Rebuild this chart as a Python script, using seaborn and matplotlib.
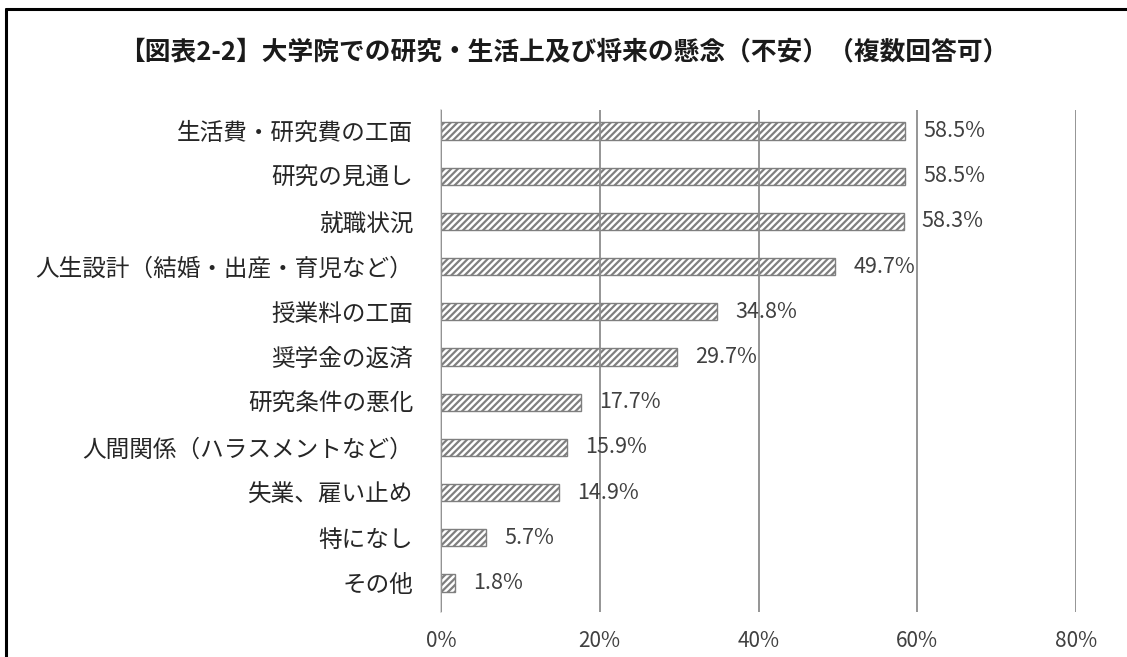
import matplotlib
matplotlib.use("Agg")
import matplotlib.pyplot as plt
import seaborn as sns
import pandas as pd
from matplotlib.lines import Line2D

sns.set_theme(style="white")
plt.rcParams['font.family'] = ['Noto Sans CJK JP', 'DejaVu Sans']
plt.rcParams['hatch.linewidth'] = 1.6
plt.rcParams['hatch.color'] = '#1a1a1a'

# --- data ---
categories = [
    '生活費・研究費の工面',
    '研究の見通し',
    '就職状況',
    '人生設計（結婚・出産・育児など）',
    '授業料の工面',
    '奨学金の返済',
    '研究条件の悪化',
    '人間関係（ハラスメントなど）',
    '失業、雇い止め',
    '特になし',
    'その他',
]
shares = [58.5, 58.5, 58.3, 49.7, 34.8, 29.7, 17.7, 15.9, 14.9, 5.7, 1.8]
ticks = [0, 20, 40, 60, 80]
tick_labels = ['0%', '20%', '40%', '60%', '80%']

df = pd.DataFrame({'item': categories, 'share': [v / 100 for v in shares]})

fig = plt.figure(figsize=(11.27, 6.57), dpi=100)
ax = fig.add_axes([441 / 1127, 1 - 612 / 657, (1076 - 441) / 1127, (612 - 110) / 657])

sns.barplot(data=df, x='share', y='item', orient='h', width=0.38,
            color='white', edgecolor='#7f7f7f', linewidth=1.0, ax=ax)
for bar in ax.patches:
    bar.set_hatch('/////')

# percentage labels to the right of each bar
for bar, v in zip(ax.patches, shares):
    ax.annotate(f'{v:.1f}%', (bar.get_width(), bar.get_y() + bar.get_height() / 2),
                xytext=(13, 0), textcoords='offset points', va='center', ha='left',
                fontsize=15.5, color='#404040')

ax.set_xlim(0, 0.8)
ax.set_ylim(10.64, -0.465)
ax.set_xticks([t / 100 for t in ticks])
ax.set_xticklabels(tick_labels, fontsize=15, color='#404040')
ax.tick_params(axis='x', length=0, pad=13)
ax.tick_params(axis='y', length=0, pad=20, labelsize=17, labelcolor='#262626')
ax.set_xlabel('')
ax.set_ylabel('')

# vertical gridlines, drawn above the bars like Excel
ax.xaxis.grid(True, color='#8c8c8c', linewidth=1.3)
ax.set_axisbelow(False)
for s in ['top', 'right', 'bottom']:
    ax.spines[s].set_visible(False)
ax.spines['left'].set_color('#d0d0d0')
ax.spines['left'].set_linewidth(1.2)
ax.set_facecolor('none')

fig.suptitle('【図表2-2】大学院での研究・生活上及び将来の懸念（不安）（複数回答可）',
             x=0.5, y=1 - 52 / 657, va='center', fontsize=18.5, fontweight='bold',
             color='#1a1a1a')

# frame lines on top and left like the cropped screenshot
fig.add_artist(Line2D([6 / 1127, 1], [1 - 9 / 657, 1 - 9 / 657], color='black',
                      linewidth=2.2, transform=fig.transFigure))
fig.add_artist(Line2D([6 / 1127, 6 / 1127], [0, 1 - 9 / 657], color='black',
                      linewidth=2.2, transform=fig.transFigure))

fig.savefig('out.png', dpi=100)
